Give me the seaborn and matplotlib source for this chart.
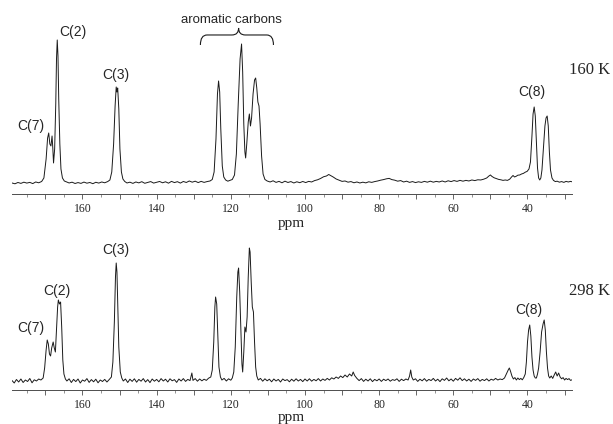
#------------------------------------------------------------------------------
# Libraries
#------------------------------------------------------------------------------

import numpy as np
import seaborn as sns
import matplotlib
matplotlib.use('Agg')
import matplotlib.pyplot as plt
from matplotlib.path import Path
from matplotlib.patches import PathPatch
from matplotlib.ticker import MultipleLocator, FuncFormatter

#------------------------------------------------------------------------------
# Spectra (ppm, intensity above baseline)
#------------------------------------------------------------------------------

ppm_160 = [179.0, 178.2, 177.4, 176.6, 175.8, 175.0, 174.2, 173.4, 172.6, 171.8,
           171.0, 170.4, 169.8, 169.4, 169.1, 168.8, 168.5, 168.2, 168.0, 167.8,
           167.5, 167.2, 167.0, 166.8, 166.6, 166.4, 166.1, 165.8, 165.4, 164.9,
           164.4, 163.6, 162.8, 162.0, 161.2, 160.4, 159.6, 158.8, 158.0, 157.2,
           156.4, 155.6, 154.8, 154.0, 153.2, 152.6, 152.1, 151.6, 151.2, 150.9,
           150.7, 150.5, 150.2, 149.9, 149.5, 149.1, 148.6, 148.0, 147.2, 146.4,
           145.6, 144.8, 144.0, 143.2, 142.4, 141.6, 140.8, 140.0, 139.2, 138.4,
           137.6, 136.8, 136.0, 135.2, 134.4, 133.6, 132.8, 132.0, 131.2, 130.4,
           129.6, 128.8, 128.0, 127.2, 126.4, 125.6, 125.0, 124.5, 124.0, 123.6,
           123.3, 123.0, 122.7, 122.3, 121.9, 121.4, 120.8, 120.2, 119.6, 119.0,
           118.5, 118.0, 117.5, 117.1, 116.8, 116.5, 116.2, 116.0, 115.7, 115.3,
           115.0, 114.7, 114.4, 114.0, 113.6, 113.3, 113.0, 112.7, 112.4, 112.1,
           111.7, 111.3, 110.8, 110.2, 109.4, 108.6, 107.8, 107.0, 106.2, 105.4,
           104.6, 103.8, 103.0, 102.2, 101.4, 100.6, 99.8, 99.0, 98.2, 97.4,
           96.6, 95.8, 95.0, 94.2, 93.6, 93.0, 92.4, 91.6, 90.8, 90.0,
           89.2, 88.4, 87.6, 86.8, 86.0, 85.2, 84.4, 83.6, 82.8, 82.0,
           81.2, 80.4, 79.6, 78.8, 78.0, 77.3, 76.6, 75.8, 75.0, 74.2,
           73.4, 72.6, 71.8, 71.0, 70.2, 69.4, 68.6, 67.8, 67.0, 66.2,
           65.4, 64.6, 63.8, 63.0, 62.2, 61.4, 60.6, 59.8, 59.0, 58.2,
           57.4, 56.6, 55.8, 55.0, 54.2, 53.4, 52.6, 51.8, 51.0, 50.4,
           50.0, 49.6, 49.0, 48.4, 47.8, 47.2, 46.6, 46.0, 45.4, 44.8,
           44.3, 43.9, 43.5, 43.1, 42.6, 42.1, 41.6, 41.1, 40.6, 40.1,
           39.6, 39.2, 38.8, 38.5, 38.2, 37.9, 37.6, 37.3, 37.0, 36.7,
           36.4, 36.1, 35.7, 35.3, 35.0, 34.7, 34.4, 34.1, 33.8, 33.4,
           33.0, 32.5, 32.0, 31.4, 30.8, 30.2, 29.6, 29.0, 28.4, 28.0]
int_160 = [1.0, 0.2, 1.5, 0.6, 1.8, 0.9, 1.6, 0.4, 2.0, 1.2,
           2.5, 6, 25, 46, 51, 40, 38, 48, 36, 21,
           35, 80, 125, 144, 128, 85, 40, 15, 6, 3,
           2.2, 1.0, 1.8, 0.5, 1.4, 0.6, 1.9, 0.8, 1.5, 0.3,
           1.7, 0.9, 2.0, 1.2, 2.4, 4, 12, 40, 78, 97,
           92, 96, 75, 35, 12, 5, 2.5, 1.0, 1.8, 0.6,
           2.0, 1.1, 2.3, 0.7, 1.6, 2.4, 0.9, 1.7, 2.5, 1.2,
           2.2, 0.8, 2.6, 1.4, 2.3, 0.9, 2.5, 1.5, 3.0, 1.8,
           2.8, 1.4, 2.6, 1.6, 2.4, 3.0, 4.5, 12, 45, 90,
           103, 92, 55, 18, 7, 4, 2.8, 3.6, 4.5, 9,
           30, 80, 125, 140, 112, 60, 32, 26, 40, 62,
           70, 58, 66, 90, 104, 106, 96, 82, 78, 60,
           28, 10, 4.5, 3.0, 2.0, 3.2, 1.6, 2.6, 1.2, 2.8,
           1.5, 2.4, 1.0, 2.2, 1.3, 2.5, 1.4, 2.6, 2.0, 3.4,
           4.2, 5.5, 7.2, 8.0, 9.5, 8.2, 7.0, 5.0, 3.8, 2.6,
           3.0, 1.8, 2.4, 1.2, 2.0, 1.0, 1.8, 1.1, 2.2, 1.6,
           2.4, 3.0, 3.8, 4.4, 5.2, 5.6, 4.4, 3.8, 2.8, 3.4,
           2.0, 2.8, 1.6, 2.4, 1.4, 2.2, 1.6, 2.6, 1.8, 2.8,
           1.8, 2.6, 2.0, 3.0, 2.0, 3.2, 2.4, 3.4, 2.6, 3.6,
           2.8, 3.6, 3.0, 4.0, 3.4, 4.2, 4.0, 4.8, 6.0, 8.0,
           9.0, 7.6, 6.2, 5.4, 4.6, 4.2, 3.6, 4.0, 3.6, 4.8,
           7.0, 8.5, 7.0, 7.6, 8.8, 9.0, 10.0, 10.6, 11.8, 12.6,
           15, 22, 48, 70, 77, 68, 42, 16, 6, 4,
           6, 14, 36, 58, 66, 68, 58, 32, 14, 6,
           3.6, 2.4, 2.8, 1.8, 2.4, 1.6, 2.6, 2.0, 2.6, 2.2]

ppm_298 = [179.0, 178.4, 177.8, 177.2, 176.6, 176.0, 175.4, 174.8, 174.2, 173.6,
           173.0, 172.4, 171.8, 171.2, 170.6, 170.2, 169.8, 169.5, 169.2, 168.9,
           168.6, 168.3, 167.9, 167.6, 167.3, 167.0, 166.7, 166.5, 166.2, 165.9,
           165.6, 165.3, 165.0, 164.6, 164.2, 163.6, 163.0, 162.4, 161.8, 161.2,
           160.6, 160.0, 159.4, 158.8, 158.2, 157.6, 157.0, 156.4, 155.8, 155.2,
           154.6, 154.0, 153.4, 152.8, 152.2, 151.8, 151.4, 151.1, 150.9, 150.7,
           150.5, 150.2, 149.8, 149.4, 149.0, 148.4, 147.8, 147.2, 146.6, 146.0,
           145.4, 144.8, 144.2, 143.6, 143.0, 142.4, 141.8, 141.2, 140.6, 140.0,
           139.4, 138.8, 138.2, 137.6, 137.0, 136.4, 135.8, 135.2, 134.6, 134.0,
           133.4, 132.8, 132.2, 131.6, 131.0, 130.5, 130.2, 129.6, 129.0, 128.4,
           127.8, 127.2, 126.6, 126.0, 125.4, 125.0, 124.6, 124.3, 124.1, 123.8,
           123.5, 123.2, 122.8, 122.4, 121.8, 121.2, 120.6, 120.0, 119.6, 119.2,
           118.8, 118.4, 118.1, 117.9, 117.6, 117.3, 117.0, 116.8, 116.5, 116.2,
           115.9, 115.6, 115.3, 115.0, 114.8, 114.5, 114.2, 113.9, 113.6, 113.3,
           113.0, 112.6, 112.0, 111.4, 110.8, 110.2, 109.6, 109.0, 108.4, 107.8,
           107.2, 106.6, 106.0, 105.4, 104.8, 104.2, 103.6, 103.0, 102.4, 101.8,
           101.2, 100.6, 100.0, 99.4, 98.8, 98.2, 97.6, 97.0, 96.4, 95.8,
           95.2, 94.6, 94.0, 93.4, 92.8, 92.2, 91.6, 91.0, 90.4, 89.8,
           89.2, 88.6, 88.0, 87.4, 87.0, 86.6, 86.0, 85.4, 84.8, 84.2,
           83.6, 83.0, 82.4, 81.8, 81.2, 80.6, 80.0, 79.4, 78.8, 78.2,
           77.6, 77.0, 76.4, 75.8, 75.2, 74.6, 74.0, 73.4, 72.8, 72.2,
           71.8, 71.5, 71.2, 70.8, 70.2, 69.6, 69.0, 68.4, 67.8, 67.2,
           66.6, 66.0, 65.4, 64.8, 64.2, 63.6, 63.0, 62.4, 61.8, 61.2,
           60.6, 60.0, 59.4, 58.8, 58.2, 57.6, 57.0, 56.4, 55.8, 55.2,
           54.6, 54.0, 53.4, 52.8, 52.2, 51.6, 51.0, 50.4, 49.8, 49.2,
           48.6, 48.0, 47.4, 46.8, 46.2, 45.7, 45.2, 44.9, 44.6, 44.2,
           43.8, 43.4, 43.0, 42.6, 42.2, 41.8, 41.4, 41.0, 40.6, 40.3,
           40.0, 39.7, 39.4, 39.1, 38.8, 38.5, 38.2, 37.9, 37.6, 37.3,
           37.0, 36.6, 36.2, 35.8, 35.5, 35.2, 34.9, 34.6, 34.3, 34.0,
           33.6, 33.2, 32.8, 32.4, 32.0, 31.6, 31.2, 30.8, 30.4, 30.0,
           29.6, 29.2, 28.8, 28.4, 28.0]
int_298 = [1.5, -1.0, 2.5, 0.0, 3.0, -0.5, 2.0, 0.5, 3.5, -0.8,
           2.2, 1.0, 3.0, 2.0, 4, 14, 32, 42, 38, 28,
           26, 34, 40, 34, 30, 52, 75, 82, 78, 80,
           55, 22, 8, 3, 1.0, 3.2, -0.5, 2.6, 0.4, 3.0,
           -1.0, 2.0, 0.8, 3.4, -0.4, 2.4, 0.2, 2.8, -0.8, 2.0,
           0.5, 2.6, 0.0, 2.4, 5, 20, 60, 105, 119, 110,
           80, 35, 10, 4, 1.0, 3.0, -0.5, 2.8, 0.6, 3.2,
           -0.2, 2.6, 0.8, 3.4, 0.0, 2.4, -0.6, 3.0, 0.8, 2.6,
           0.2, 3.4, 1.0, 2.8, 0.0, 3.2, 1.2, 2.4, -0.4, 3.0,
           1.0, 3.4, 0.6, 2.6, 1.4, 9, 1.6, 3.4, 0.8, 3.0,
           1.2, 2.8, 1.6, 3.8, 5, 12, 40, 75, 85, 78,
           45, 15, 5, 2.0, 3.6, 1.0, 3.2, 1.8, 4, 10,
           35, 85, 110, 114, 90, 55, 18, 10, 30, 55,
           50, 65, 105, 134, 130, 100, 75, 70, 40, 15,
           6, 2.0, 3.6, 0.8, 3.2, 1.2, 2.8, 0.2, 3.0, 1.0,
           2.6, 0.0, 3.0, 1.4, 2.4, 0.2, 2.8, 0.8, 3.2, 1.0,
           2.6, 0.4, 3.0, 1.0, 3.2, 0.8, 2.6, 1.2, 3.4, 1.0,
           3.0, 1.6, 3.6, 2.0, 4.2, 3.0, 5.0, 3.6, 6.0, 4.4,
           7.0, 5.0, 8.0, 6.0, 10.0, 6.5, 3.6, 1.4, 3.4, 0.6,
           2.8, 1.0, 3.2, 0.4, 2.6, 1.2, 3.0, 0.6, 2.8, 1.4,
           3.0, 0.8, 2.4, 1.6, 3.2, 0.6, 2.8, 1.4, 3.0, 2.0,
           6, 12, 5, 2.0, 3.2, 0.6, 2.8, 1.2, 3.4, 0.8,
           2.6, 1.4, 3.6, 1.0, 2.8, 0.4, 3.2, 1.6, 4.0, 1.2,
           3.0, 0.8, 3.6, 1.8, 4.2, 1.4, 3.2, 1.0, 2.8, 0.6,
           3.0, 1.6, 3.4, 0.8, 2.6, 1.4, 3.2, 1.0, 2.8, 1.8,
           3.6, 2.0, 3.0, 2.4, 4.0, 8, 12, 14, 11, 6,
           3, 4.4, 2.0, 4.0, 2.4, 3.6, 2.2, 4.5, 8, 20,
           40, 52, 57, 46, 25, 12, 6, 4, 4, 8,
           14, 30, 50, 58, 62, 52, 30, 14, 6, 4,
           6, 3.6, 7, 10, 6, 9, 5, 3.2, 4.4, 2.0,
           3.6, 2.4, 3.4, 1.6, 2.2]

# peak labels: (text, ppm, height)
labels_160 = [("C(7)", 173.9, 58), ("C(2)", 162.5, 152), ("C(3)", 151.1, 109), ("C(8)", 38.8, 92)]
labels_298 = [("C(7)", 173.9, 54), ("C(2)", 166.9, 91), ("C(3)", 151.1, 132), ("C(8)", 39.6, 72)]

# brace over the aromatic region (ppm)
brace_left, brace_tip, brace_right = 128.2, 117.9, 108.5

#------------------------------------------------------------------------------
# Style
#------------------------------------------------------------------------------

sns.set_style('white')
plt.rcParams['font.family'] = ['Liberation Serif', 'DejaVu Serif']
sans = ['Liberation Sans', 'DejaVu Sans']

fig = plt.figure(figsize=(6.13, 4.24), dpi=100)
ax_top = fig.add_axes([12/613, 0.5425, 560/613, 174/424])
ax_bot = fig.add_axes([12/613, 34/424, 560/613, 170/424])

def style_axis(ax, ylim):
    ax.set_xlim(179, 28)
    ax.set_ylim(*ylim)
    for s in ['top', 'left', 'right']:
        ax.spines[s].set_visible(False)
    ax.spines['bottom'].set_color('0.3')
    ax.spines['bottom'].set_linewidth(0.7)
    ax.spines['bottom'].set_linestyle((0, (1.5, 1)))
    ax.set_yticks([])
    ax.xaxis.set_major_locator(MultipleLocator(10))
    ax.xaxis.set_minor_locator(MultipleLocator(5))
    ax.xaxis.set_major_formatter(FuncFormatter(lambda v, p: f"{v:.0f}" if v % 20 == 0 else ""))
    ax.tick_params(axis='x', which='major', direction='out', length=3.5, width=0.6,
                   color='0.3', labelsize=8.5, pad=3, bottom=True)
    ax.tick_params(axis='x', which='minor', direction='out', length=2, width=0.5,
                   color='0.4', bottom=True)
    ax.set_xlabel('')
    ax.set_ylabel('')
    ax.patch.set_alpha(0)

#------------------------------------------------------------------------------
# Draw spectra
#------------------------------------------------------------------------------

sns.lineplot(x=ppm_160, y=int_160, ax=ax_top, color='0.1', lw=0.7,
             estimator=None, sort=False)
sns.lineplot(x=ppm_298, y=int_298, ax=ax_bot, color='0.1', lw=0.7,
             estimator=None, sort=False)

style_axis(ax_top, (-10, 164))
style_axis(ax_bot, (-8, 162))

for txt, x, y in labels_160:
    ax_top.text(x, y, txt, ha='center', va='center', fontsize=10, family=sans, clip_on=False)
for txt, x, y in labels_298:
    ax_bot.text(x, y, txt, ha='center', va='center', fontsize=10, family=sans, clip_on=False)

# brace
y0, y1, yt, d = 139, 149, 156, 1.8
verts = [(brace_left, y0), (brace_left, y1), (brace_left - d, y1),
         (brace_tip + d, y1),
         (brace_tip, y1), (brace_tip, yt),
         (brace_tip, y1), (brace_tip - d, y1),
         (brace_right + d, y1),
         (brace_right, y1), (brace_right, y0)]
codes = [Path.MOVETO, Path.CURVE3, Path.CURVE3, Path.LINETO,
         Path.CURVE3, Path.CURVE3, Path.CURVE3, Path.CURVE3,
         Path.LINETO, Path.CURVE3, Path.CURVE3]
ax_top.add_patch(PathPatch(Path(verts, codes), fill=False, lw=0.8, ec='0.1', clip_on=False))
ax_top.text(119.7, 164, 'aromatic carbons', ha='center', va='center', fontsize=9.5,
            family=sans, clip_on=False)

fig.text(610/613, 1 - 70/424, '160 K', ha='right', va='center', fontsize=12)
fig.text(610/613, 1 - 291/424, '298 K', ha='right', va='center', fontsize=12)
fig.text(291/613, 1 - 223/424, 'ppm', ha='center', va='center', fontsize=11)
fig.text(291/613, 1 - 418/424, 'ppm', ha='center', va='center', fontsize=11)

fig.savefig('out.png', dpi=100)
